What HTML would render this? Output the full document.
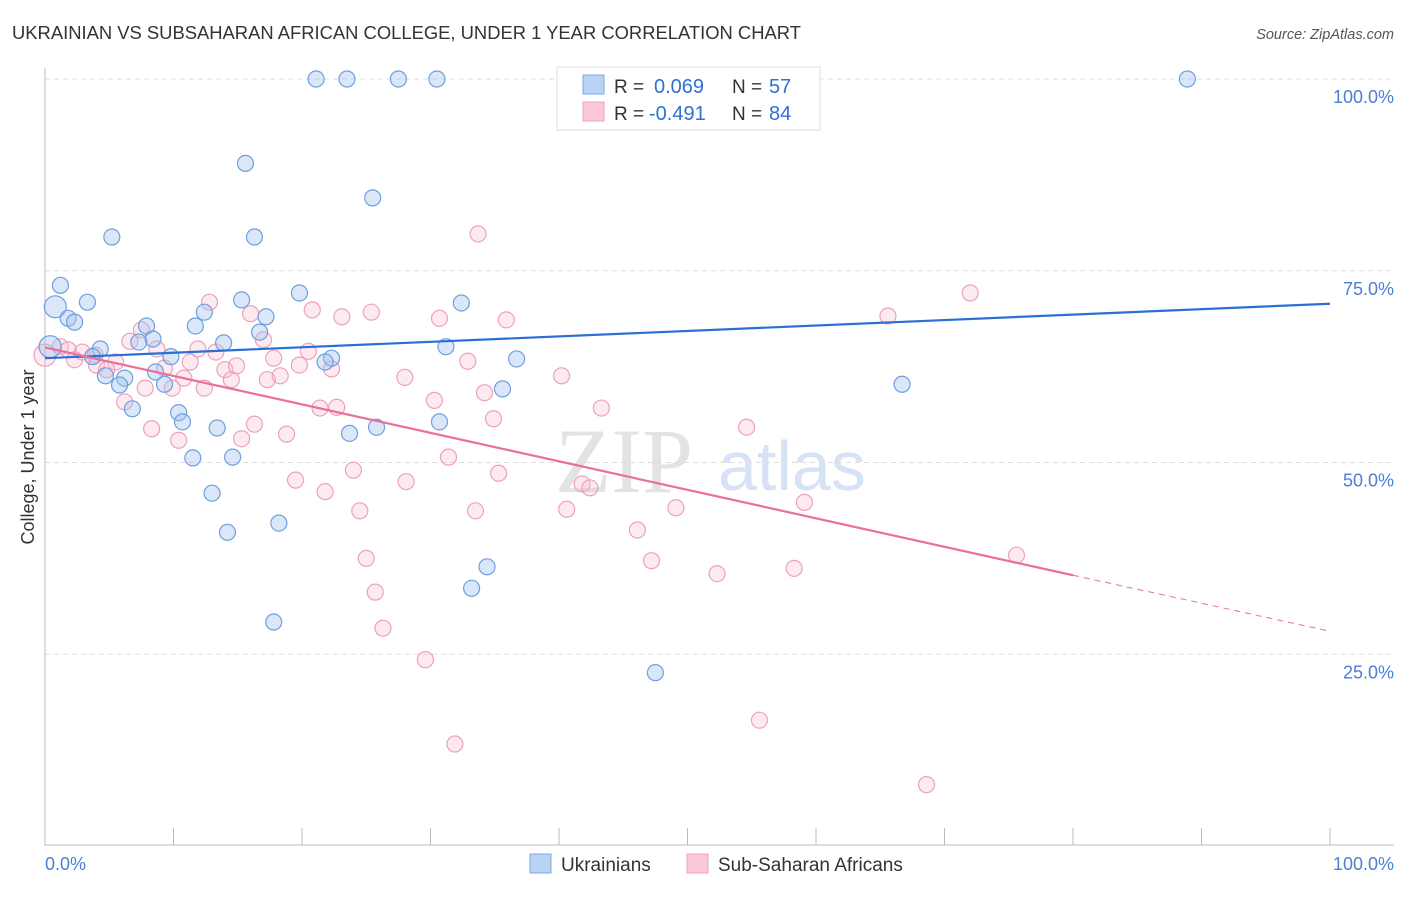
<!DOCTYPE html>
<html><head><meta charset="utf-8"><style>
body{margin:0;background:#fff;font-family:"Liberation Sans",sans-serif;}
</style></head><body>
<svg id="chart" width="1406" height="892" xmlns="http://www.w3.org/2000/svg" font-family="Liberation Sans, sans-serif">
<text x="12" y="39" font-size="18.4" fill="#333">UKRAINIAN VS SUBSAHARAN AFRICAN COLLEGE, UNDER 1 YEAR CORRELATION CHART</text>
<text x="1394" y="39" font-size="14.5" fill="#555" text-anchor="end" font-style="italic">Source: ZipAtlas.com</text>
<text x="555" y="492" font-size="92" fill="#e3e3e3" font-family="Liberation Serif, serif">ZIP</text>
<text x="718" y="490" font-size="70" fill="#d5e3f5">atlas</text>
<g id="grid"></g>
<g id="axes"></g>
<g id="marks"></g>
<text transform="translate(34,457) rotate(-90)" font-size="18" fill="#333" text-anchor="middle">College, Under 1 year</text>
<text x="45" y="870" font-size="18" fill="#4a7fd4">0.0%</text>
<text x="1394" y="870" font-size="18" fill="#4a7fd4" text-anchor="end">100.0%</text>
<g>
<rect x="557" y="67" width="263" height="63" fill="#fff" stroke="#ddd"/>
<rect x="583" y="75" width="21" height="19" fill="#b9d3f4" stroke="#7fa9e3"/>
<rect x="583" y="102" width="21" height="19" fill="#fbc9d7" stroke="#eea3b9"/>
<text x="614" y="93" font-size="19" fill="#333">R =</text>
<text x="654" y="93" font-size="20" fill="#2f6fd6">0.069</text>
<text x="732" y="93" font-size="19" fill="#333">N =</text>
<text x="769" y="93" font-size="20" fill="#2f6fd6">57</text>
<text x="614" y="120" font-size="19" fill="#333">R =</text>
<text x="649" y="120" font-size="20" fill="#2f6fd6">-0.491</text>
<text x="732" y="120" font-size="19" fill="#333">N =</text>
<text x="769" y="120" font-size="20" fill="#2f6fd6">84</text>
</g>
<g>
<rect x="530" y="854" width="21" height="19" fill="#b9d3f4" stroke="#7fa9e3"/>
<text x="561" y="871" font-size="19" fill="#333">Ukrainians</text>
<rect x="687" y="854" width="21" height="19" fill="#fbc9d7" stroke="#eea3b9"/>
<text x="718" y="871" font-size="19" fill="#333">Sub-Saharan Africans</text>
</g>
</svg>
<script>
const yTicks=[25,50,75,100];
const yTickLabels=["25.0%","50.0%","75.0%","100.0%"];
const xTicks=[10,20,30,40,50,60,70,80,90,100];
const blueX=[21.1,23.5,27.5,30.5,88.9,15.6,25.5,5.2,16.3,1.2,0.8,3.3,15.3,19.8,32.4,1.8,2.3,7.9,12.4,11.7,17.2,16.7,8.4,7.3,13.9,31.2,0.4,4.3,3.7,9.8,22.3,21.8,36.7,8.6,4.7,6.2,9.3,5.8,35.6,66.7,6.8,10.4,10.7,13.4,23.7,25.8,30.7,11.5,14.6,13.0,18.2,14.2,34.4,33.2,17.8,47.5];
const blueY=[100,100,100,100,100,89.0,84.5,79.4,79.4,73.1,70.3,70.9,71.2,72.1,70.8,68.8,68.3,67.8,69.6,67.8,69.0,67.0,66.1,65.7,65.6,65.1,65.1,64.8,63.8,63.8,63.6,63.1,63.5,61.8,61.3,61.0,60.2,60.1,59.6,60.2,57.0,56.5,55.3,54.5,53.8,54.6,55.3,50.6,50.7,46.0,42.1,40.9,36.4,33.6,29.2,22.6];
const pinkX=[0,1.2,2.3,2.9,3.9,1.8,4.0,5.5,4.8,6.2,6.6,7.5,7.8,8.7,9.3,8.3,9.9,10.4,10.8,11.3,11.9,12.4,12.8,13.3,14.0,14.5,14.9,15.3,16.0,16.3,17.0,17.3,17.8,18.3,18.8,19.5,19.8,20.5,20.8,21.4,21.8,22.3,22.7,23.1,24.0,24.5,25.0,25.4,25.7,26.3,28.0,28.1,29.6,30.3,30.7,31.4,31.9,32.9,33.5,33.7,34.2,34.9,35.3,35.9,40.2,40.6,41.8,42.4,43.3,46.1,47.2,49.1,52.3,54.6,55.6,58.3,59.1,65.6,68.6,72.0,75.6];
const pinkY=[64,65.1,63.4,64.4,64.0,64.7,62.7,63.1,62.1,57.9,65.8,67.3,59.7,64.8,62.3,54.4,59.7,52.9,61.0,63.1,64.8,59.7,70.9,64.4,62.1,60.8,62.6,53.1,69.4,55.0,66.0,60.8,63.6,61.3,53.7,47.7,62.7,64.5,69.9,57.1,46.2,62.2,57.2,69.0,49.0,43.7,37.5,69.6,33.1,28.4,61.1,47.5,24.3,58.1,68.8,50.7,13.3,63.2,43.7,79.8,59.1,55.7,48.6,68.6,61.3,43.9,47.2,46.7,57.1,41.2,37.2,44.1,35.5,54.6,16.4,36.2,44.8,69.1,8.0,72.1,37.9];
const blueTrend=[63.6,70.7];
const pinkTrend=[65.0,35.3,28.0];
const X=v=>45+v*12.85, Y=v=>846-v*7.67;
const NS="http://www.w3.org/2000/svg";
function mk(parent,tag,attrs){const e=document.createElementNS(NS,tag);for(const k in attrs)e.setAttribute(k,attrs[k]);document.getElementById(parent).appendChild(e);return e;}
yTicks.forEach((t,i)=>{
 const l=mk('grid','line',{x1:45,x2:1394,y1:Y(t),y2:Y(t),stroke:'#ddd','stroke-dasharray':'5,4'});
 
 
 const tx=mk('axes','text',{x:1394,y:Y(t)+24,'font-size':18,fill:'#4a7fd4','text-anchor':'end'});
 tx.textContent=yTickLabels[i];
 
 
});
let a=mk('axes','line',{x1:45,x2:45,y1:68,y2:846,stroke:'#bbb'});


a=mk('axes','line',{x1:45,x2:1394,y1:845,y2:845,stroke:'#bbb'});


xTicks.forEach(t=>{const l=mk('axes','line',{x1:X(t),x2:X(t),y1:828,y2:845,stroke:'#bbb'});
 
 });
function dot(x,y,big,blue){
 const c=mk('marks','circle',{cx:X(x),cy:Y(y),r:big?11:8,fill:blue?'rgba(160,196,240,0.4)':'rgba(248,184,204,0.3)',stroke:blue?'#6e9fe0':'#eda2b9','stroke-width':1.2});
 
 
}
pinkX.forEach((x,i)=>dot(x,pinkY[i],i<1,false));
blueX.forEach((x,i)=>dot(x,blueY[i],i==10||i==26,true));
let t=mk('marks','line',{x1:X(0),y1:Y(blueTrend[0]),x2:X(100),y2:Y(blueTrend[1]),stroke:'#2a6fd6','stroke-width':2.2});


t=mk('marks','line',{x1:X(0),y1:Y(pinkTrend[0]),x2:X(80),y2:Y(pinkTrend[1]),stroke:'#e8709a','stroke-width':2.2});


t=mk('marks','line',{x1:X(80),y1:Y(pinkTrend[1]),x2:X(100),y2:Y(pinkTrend[2]),stroke:'#e8709a','stroke-width':1,'stroke-dasharray':'6,5'});


</script>
</body></html>
